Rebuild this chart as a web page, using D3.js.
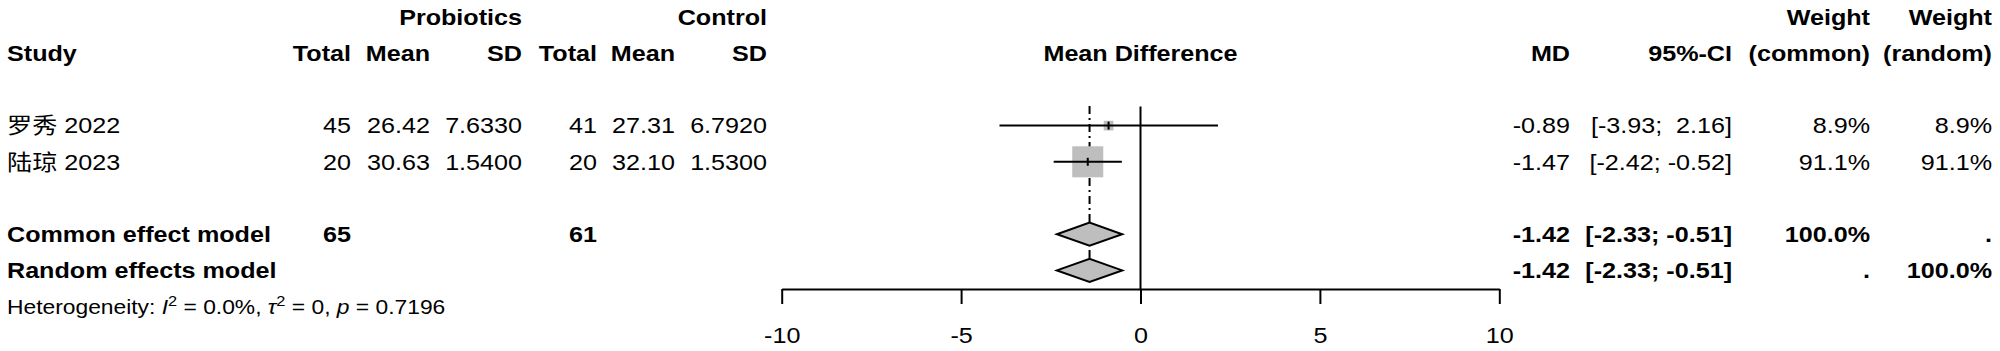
<!DOCTYPE html>
<html>
<head>
<meta charset="utf-8">
<script src="https://cdn.jsdelivr.net/npm/d3@7"></script>
<style>
  body { margin: 0; background: #fff; }
  text { font-family: "Liberation Sans", Arial, "Noto Sans CJK SC", sans-serif; fill: #000; white-space: pre; }
</style>
</head>
<body>
<svg id="forest" width="2000" height="351"></svg>
<script>
// study level data
const studies   = ["罗秀 2022", "陆琼 2023"];
const probTotal = [45, 20];
const probMean  = [26.42, 30.63];
const probSD    = [7.6330, 1.5400];
const ctrlTotal = [41, 20];
const ctrlMean  = [27.31, 32.10];
const ctrlSD    = [6.7920, 1.5300];
const md        = [-0.89, -1.47];
const ciLow     = [-3.93, -2.42];
const ciHigh    = [2.16, -0.52];
const wCommon   = [8.9, 91.1];
const wRandom   = [8.9, 91.1];

// pooled estimates
const models     = ["Common effect model", "Random effects model"];
const modelMD    = [-1.42, -1.42];
const modelLow   = [-2.33, -2.33];
const modelHigh  = [-0.51, -0.51];
const modelWC    = ["100.0%", "."];
const modelWR    = [".", "100.0%"];
const totalsProb = 65, totalsCtrl = 61;

const axisTicks = [-10, -5, 0, 5, 10];

const svg = d3.select("#forest");
const SX = 1.17;          // the original is stretched a bit horizontally
const FS = 21.5;
const row = i => 17 + i * 36.2;   // row centres
const base = i => row(i) + 7.7;   // text baseline

function txt(x, y, s, anchor = "end", bold = false, size = FS) {
  return svg.append("text")
    .attr("transform", `translate(${x},${y}) scale(${SX},1)`)
    .attr("text-anchor", anchor)
    .style("font-size", size + "px")
    .style("font-weight", bold ? "bold" : "normal")
    .text(s);
}

// plain hyphen minus like R prints
const loc = d3.formatLocale({ decimal: ".", thousands: ",", grouping: [3], currency: ["", ""], minus: "-" });
const f2 = loc.format(".2f"), f4 = loc.format(".4f"), f1 = loc.format(".1f"), fd = loc.format("d");
const ci = (lo, hi) => `[${f2(lo).padStart(5)}; ${f2(hi).padStart(5)}]`;

// column right edges
const C = { study: 7, pT: 351, pM: 430, pS: 522, cT: 597, cM: 675, cS: 767,
            md: 1570, ci: 1732, wc: 1870, wr: 1992 };

// headers
txt(C.pS, base(0), "Probiotics", "end", true);
txt(C.cS, base(0), "Control", "end", true);
txt(C.wc, base(0), "Weight", "end", true);
txt(C.wr, base(0), "Weight", "end", true);
txt(C.study, base(1), "Study", "start", true);
[["pT", "Total"], ["pM", "Mean"], ["pS", "SD"], ["cT", "Total"], ["cM", "Mean"], ["cS", "SD"],
 ["md", "MD"], ["ci", "95%-CI"], ["wc", "(common)"], ["wr", "(random)"]]
  .forEach(([k, s]) => txt(C[k], base(1), s, "end", true));

// forest scale + axis
const x = d3.scaleLinear().domain([-10, 10]).range([781.7, 1499.3]);
const axisY = 289;
txt((x(-10) + x(10)) / 2, base(1), "Mean Difference", "middle", true);

const size = d3.scaleSqrt().domain([0, 100]).range([0, 32.5]);

// reference lines
svg.append("line")
  .attr("x1", x(0)).attr("x2", x(0)).attr("y1", 106.5).attr("y2", axisY)
  .attr("stroke", "#000").attr("stroke-width", 2);
svg.append("line")
  .attr("x1", x(modelMD[0])).attr("x2", x(modelMD[0])).attr("y1", 106).attr("y2", 259)
  .attr("stroke", "#000").attr("stroke-width", 2).attr("stroke-dasharray", "8,4,2,4");

// study rows
studies.forEach((s, i) => {
  const r = i + 3, y = row(r);
  txt(C.study, base(r), s, "start");
  txt(C.pT, base(r), probTotal[i]);
  txt(C.pM, base(r), f2(probMean[i]));
  txt(C.pS, base(r), f4(probSD[i]));
  txt(C.cT, base(r), ctrlTotal[i]);
  txt(C.cM, base(r), f2(ctrlMean[i]));
  txt(C.cS, base(r), f4(ctrlSD[i]));
  txt(C.md, base(r), f2(md[i]));
  txt(C.ci, base(r), ci(ciLow[i], ciHigh[i]));
  txt(C.wc, base(r), f1(wCommon[i]) + "%");
  txt(C.wr, base(r), f1(wRandom[i]) + "%");

  const sz = size(wCommon[i]);
  svg.append("rect")
    .attr("x", x(md[i]) - sz / 2).attr("y", y - sz / 2)
    .attr("width", sz).attr("height", sz)
    .attr("fill", "#bebebe");
  svg.append("line")
    .attr("x1", x(ciLow[i])).attr("x2", x(ciHigh[i])).attr("y1", y).attr("y2", y)
    .attr("stroke", "#000").attr("stroke-width", 2);
  svg.append("line")
    .attr("x1", x(md[i])).attr("x2", x(md[i])).attr("y1", y - 4).attr("y2", y + 4)
    .attr("stroke", "#000").attr("stroke-width", 2);
});

// pooled rows
models.forEach((m, i) => {
  const r = i + 6, y = row(r);
  txt(C.study, base(r), m, "start", true);
  if (i === 0) {
    txt(C.pT, base(r), totalsProb, "end", true);
    txt(C.cT, base(r), totalsCtrl, "end", true);
  }
  txt(C.md, base(r), f2(modelMD[i]), "end", true);
  txt(C.ci, base(r), ci(modelLow[i], modelHigh[i]), "end", true);
  txt(C.wc, base(r), modelWC[i], "end", true);
  txt(C.wr, base(r), modelWR[i], "end", true);

  const h = 11.6;
  svg.append("path")
    .attr("d", `M${x(modelLow[i])},${y} L${x(modelMD[i])},${y - h} L${x(modelHigh[i])},${y} L${x(modelMD[i])},${y + h} Z`)
    .attr("fill", "#bebebe").attr("stroke", "#000").attr("stroke-width", 2);
});

// heterogeneity
const het = txt(C.study, base(8), "", "start", false, 19.5);
het.append("tspan").text("Heterogeneity: ");
het.append("tspan").style("font-style", "italic").text("I");
het.append("tspan").attr("dy", -8).style("font-size", "14px").text("2");
het.append("tspan").attr("dy", 8).text(" = 0.0%, ");
het.append("tspan").style("font-style", "italic").text("τ");
het.append("tspan").attr("dy", -8).style("font-size", "14px").text("2");
het.append("tspan").attr("dy", 8).text(" = 0, ");
het.append("tspan").style("font-style", "italic").text("p");
het.append("tspan").text(" = 0.7196");

// x axis
const ax = svg.append("g")
  .attr("transform", `translate(0,${axisY})`)
  .call(d3.axisBottom(x).tickValues(axisTicks).tickSize(15).tickSizeOuter(0).tickFormat(fd));
ax.select(".domain").attr("stroke-width", 2);
ax.selectAll(".tick line").attr("stroke-width", 2);
ax.selectAll(".tick text")
  .attr("y", 0).attr("dy", 0)
  .attr("transform", `translate(0,54) scale(${SX},1)`)
  .style("font-size", FS + "px")
  .style("font-family", '"Liberation Sans", Arial, sans-serif');
</script>
</body>
</html>
